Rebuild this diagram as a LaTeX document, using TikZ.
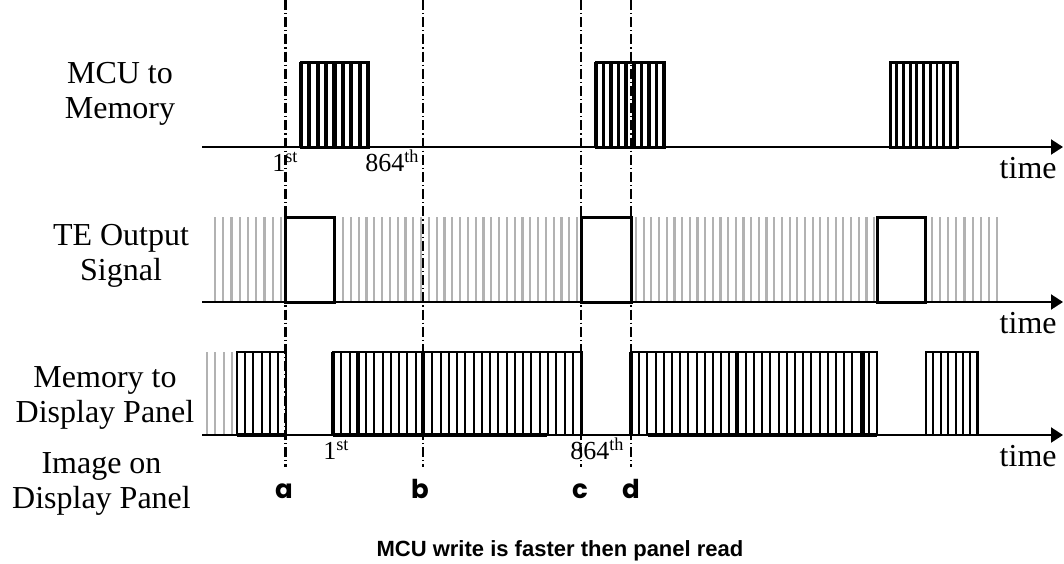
\documentclass[tikz,border=0pt]{standalone}
\usepackage{fontspec}
\setmainfont{Liberation Serif}
\newfontfamily\capfont{Liberation Sans}
\newfontfamily\markfont{Poppins}
\usepackage{tikz}
\usetikzlibrary{arrows.meta}

\begin{document}
\begin{tikzpicture}[x=0.5pt,y=-0.5pt,
    rowlabel/.style={align=center,inner sep=0pt,font=\fontsize{16}{17.5}\selectfont},
    numlabel/.style={inner sep=0pt,font=\fontsize{13}{15}\selectfont},
    marklabel/.style={inner sep=0pt,font=\markfont\bfseries\fontsize{13}{15}\selectfont},
    axis/.style={line width=1pt,-{Triangle[length=6pt,width=7.5pt]}},
    markline/.style={line width=1.2pt,dash pattern=on 5pt off 1.5pt on 0.6pt off 1.5pt},
    tick/.style={line width=1.6pt},
    fine/.style={line width=1pt},
    faint/.style={line width=1.1pt,black!30}]
  \useasboundingbox (0,0) rectangle (1064,563);
  % row labels (anchor on the last line)
  \node[rowlabel,anchor=base] (mcu) at (120,118) {MCU to\\Memory};
  \node[rowlabel,anchor=base] (te) at (121,280) {TE Output\\Signal};
  \node[rowlabel,anchor=base] (mem) at (105,422) {Memory to\\Display Panel};
  \node[rowlabel,anchor=base] (img) at (101.5,508) {Image on\\Display Panel};
  % MCU to Memory: three write bursts
  \foreach \xa/\st/\n/\w in {301/8.375/8/2.1pt,596/7.556/9/1.8pt,890/6.7/10/1.4pt} {
    \foreach \k in {0,...,\n}
      \draw[line width=\w] ({\xa+\k*\st},62) -- ({\xa+\k*\st},147);
    \draw[line width=1.5pt] (\xa,62) rectangle ({\xa+\n*\st},147);
  }
  % TE Output Signal: gray pulses, white gaps
  \foreach \xa/\st/\n in {215/8.25/8,343/7.8/30,636/7.68/31,932/8.125/8} {
    \foreach \k in {0,...,\n}
      \draw[faint] ({\xa+\k*\st},217) -- ({\xa+\k*\st},302);
  }
  \foreach \xa/\xb in {285/334,581/631,877/925}
    \draw[line width=1.5pt,fill=white] (\xa,217) rectangle (\xb,302);
  % Memory to Display Panel: read bursts
  \foreach \k in {0,...,3}
    \draw[faint] ({207+\k*8.33},352) -- ({207+\k*8.33},435);
  \foreach \xa/\st/\n in {237/8.17/6,333/8.27/30,631/8.2/30,926/7.4/7} {
    \foreach \k in {0,...,\n}
      \draw[fine] ({\xa+\k*\st},352) -- ({\xa+\k*\st},435);
    \draw[line width=1.4pt] (\xa,435) |- ({\xa+\n*\st},352) -- ({\xa+\n*\st},435);
  }
  \foreach \x in {333,358,423,631,737,863}
    \draw[tick] (\x,352) -- (\x,435);
  \foreach \xa/\xb in {237/286,333/547,648/877}
    \draw[line width=1.8pt] (\xa,435) -- (\xb,435);
  % time axes
  \foreach \y/\r in {147/1,302/2,435/3} {
    \coordinate (ax\r s) at (202,\y);
    \coordinate (ax\r e) at (1063,\y);
    \draw[axis] (ax\r s) -- (ax\r e);
    \node[rowlabel,anchor=base east] (time\r) at (1057,\y+31) {time};
  }
  % first and last lines
  \node[numlabel,anchor=base west] (first1) at (272,171) {1\textsuperscript{st}};
  \node[numlabel,anchor=base west] (last1) at (365,171) {864\textsuperscript{th}};
  \node[numlabel,anchor=base west] (first3) at (323,459) {1\textsuperscript{st}};
  \node[numlabel,anchor=base west] (last3) at (570,459) {864\textsuperscript{th}};
  % instants a to d
  \foreach \x/\lx/\l in {285.5/284/a,423/420/b,581/580/c,631/631/d} {
    \coordinate (top\l) at (\x,0);
    \coordinate (bot\l) at (\x,467);
    \draw[markline] (top\l) -- (bot\l);
    \node[marklabel,anchor=base] (mark\l) at (\lx,498) {\l};
  }
  \node[font=\capfont\bfseries\fontsize{11}{13}\selectfont,anchor=base] (caption) at (560,556)
    {MCU write is faster then panel read};
\end{tikzpicture}
\end{document}
